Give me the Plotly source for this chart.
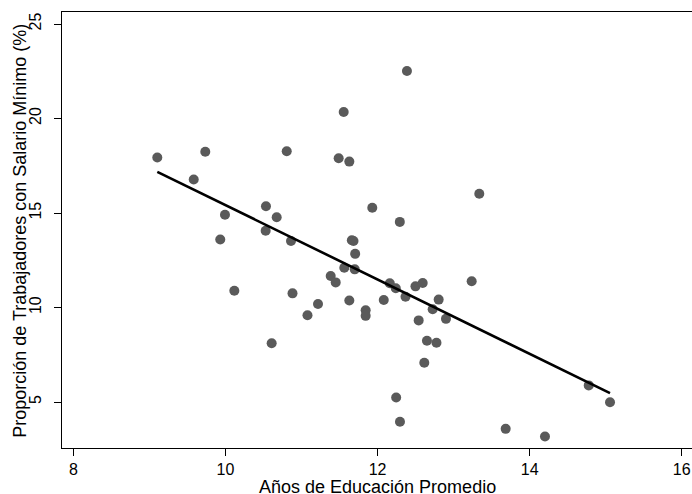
import plotly.graph_objects as go

# Años de educación promedio (x) y proporción con salario mínimo (%) (y)
educ = [9.104, 9.735, 10.806, 9.583, 10.533, 10.674, 9.994, 10.529, 9.932, 10.862,
        10.117, 10.882, 11.931, 11.662, 11.684, 11.706, 11.563, 11.700, 11.384, 11.450,
        11.217, 11.629, 11.844, 11.844, 11.079, 10.608, 12.293, 13.338, 12.161, 12.240,
        12.499, 12.594, 13.238, 12.082, 12.368, 12.804, 12.725, 12.541, 12.900, 12.650,
        12.775, 12.615, 12.245, 12.295, 11.555, 11.489, 11.629, 12.387, 14.777, 15.057,
        13.685, 14.202]
salmin = [17.94, 18.24, 18.27, 16.77, 15.36, 14.78, 14.91, 14.06, 13.60, 13.52,
          10.89, 10.75, 15.28, 13.56, 13.52, 12.84, 12.10, 12.02, 11.67, 11.33,
          10.19, 10.37, 9.85, 9.56, 9.59, 8.11, 14.53, 16.02, 11.28, 11.02,
          11.12, 11.30, 11.39, 10.40, 10.57, 10.42, 9.91, 9.32, 9.40, 8.24,
          8.14, 7.08, 5.24, 3.96, 20.34, 17.90, 17.72, 22.51, 5.88, 4.99,
          3.58, 3.18]

# Recta de ajuste lineal (extremos)
fit_x = [9.104, 15.057]
fit_y = [17.18, 5.47]

x_ticks = [8, 10, 12, 14, 16]
y_ticks = [5, 10, 15, 20, 25]

x_title = "Años de Educación Promedio"
y_title = "Proporción de Trabajadores con Salario Mínimo (%)"

fig = go.Figure()
fig.add_trace(go.Scatter(x=educ, y=salmin, mode="markers",
                         marker=dict(size=10, color="#5a5a5a", line=dict(width=0)),
                         showlegend=False))
fig.add_trace(go.Scatter(x=fit_x, y=fit_y, mode="lines",
                         line=dict(color="black", width=2.6),
                         showlegend=False))

font = "Liberation Sans, Arial, sans-serif"
fig.update_layout(
    width=692, height=494,
    margin=dict(l=62, r=0, t=12, b=46, autoexpand=False),
    paper_bgcolor="white", plot_bgcolor="white",
    font=dict(family=font, color="black", size=16),
    xaxis=dict(range=[7.851, 16.135], tickvals=x_ticks, ticks="outside", ticklen=7,
               tickcolor="black", showline=True, linecolor="black", linewidth=1,
               mirror=True, showgrid=False, zeroline=False, automargin=False,
               tickfont=dict(size=16), ticklabelstandoff=0),
    yaxis=dict(range=[2.568, 25.635], tickvals=y_ticks, ticks="outside", ticklen=7,
               tickcolor="black", showline=True, linecolor="black", linewidth=1,
               showgrid=False, zeroline=False, tickangle=-90, automargin=False,
               tickfont=dict(size=16), ticklabelstandoff=7),
    annotations=[
        dict(text=x_title, xref="paper", yref="paper", x=0.5, y=-0.0894,
             xanchor="center", yanchor="middle", showarrow=False,
             font=dict(size=18)),
        dict(text=y_title, xref="paper", yref="paper", x=-0.0667, y=0.498,
             xanchor="center", yanchor="middle", showarrow=False, textangle=-90,
             font=dict(size=18)),
    ],
)

fig.write_html("out.html", config={"displayModeBar": False},
               post_script="document.body.style.margin='0px';document.body.style.overflow='hidden';")
